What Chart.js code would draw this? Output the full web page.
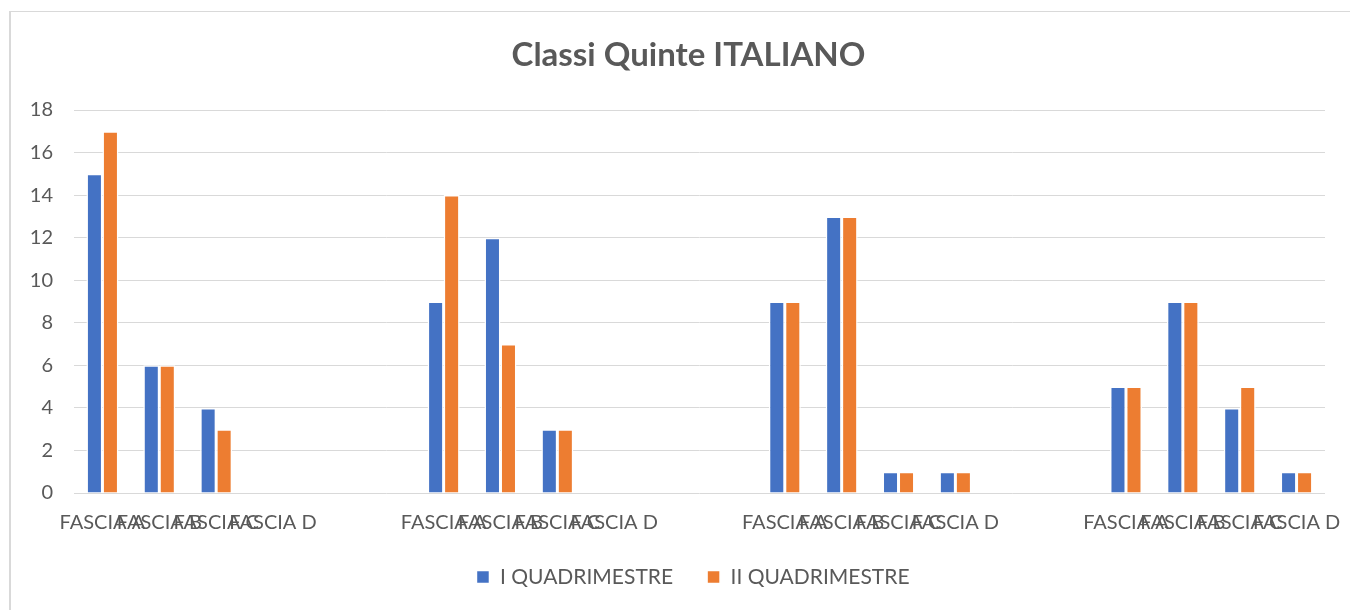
<!DOCTYPE html>
<html>
<head>
<meta charset="utf-8">
<script src="https://cdn.jsdelivr.net/npm/chart.js@4.4.1/dist/chart.umd.min.js"></script>
<style>
  html, body { margin: 0; padding: 0; background: #fff; }
  #box { position: relative; width: 1350px; height: 610px; overflow: hidden; }
  /* cornice del grafico, tagliata a destra e in basso come nello screenshot */
  #cornice { position: absolute; left: 9px; top: 11px; width: 1400px; height: 700px;
             border-left: 2px solid #d9d9d9; border-top: 1px solid #d9d9d9; }
  canvas { position: absolute; left: 0; top: 0; }
</style>
</head>
<body>
<div id="box">
  <div id="cornice"></div>
  <canvas id="grafico" width="1350" height="610"></canvas>
</div>
<script>
// * Dati: 4 blocchi di fasce, con due colonne vuote tra un blocco e l'altro
var etichette = [
    'FASCIA A', 'FASCIA B', 'FASCIA C', 'FASCIA D', '', '',
    'FASCIA A', 'FASCIA B', 'FASCIA C', 'FASCIA D', '', '',
    'FASCIA A', 'FASCIA B', 'FASCIA C', 'FASCIA D', '', '',
    'FASCIA A', 'FASCIA B', 'FASCIA C', 'FASCIA D'
];
var primoQuadrimestre = [
    15, 6, 4, 0, null, null,
    9, 12, 3, 0, null, null,
    9, 13, 1, 1, null, null,
    5, 9, 4, 1
];
var secondoQuadrimestre = [
    17, 6, 3, 0, null, null,
    14, 7, 3, 0, null, null,
    9, 13, 1, 1, null, null,
    5, 9, 5, 1
];
var nomiSerie = ['I QUADRIMESTRE', 'II QUADRIMESTRE'];
var tickY = [0, 2, 4, 6, 8, 10, 12, 14, 16, 18];

var coloreTesto = '#595959';
var font = 'Lato, "Open Sans", "Liberation Sans", sans-serif';

var data = {
    labels: etichette,
    datasets: [{
        label: nomiSerie[0],
        data: primoQuadrimestre,
        backgroundColor: '#4472C4',
        borderColor: '#ffffff',
        borderWidth: 1.5
    }, {
        label: nomiSerie[1],
        data: secondoQuadrimestre,
        backgroundColor: '#ED7D31',
        borderColor: '#ffffff',
        borderWidth: 1.5
    }]
};

// > Titolo e legenda in Excel sono centrati un po' più a destra: sposto i loro box dopo il layout
var spostaBox = {
    id: 'spostaBox',
    afterLayout: function (chart) {
        if (chart.titleBlock) {
            chart.titleBlock.left = 52;
            chart.titleBlock.right = 1325;
        }
        if (chart.legend) {
            chart.legend.left = 61;
            chart.legend.right = 1325;
        }
    }
};

var options = {
    responsive: false,
    animation: false,
    layout: { padding: { left: 12, right: 25, top: 0, bottom: 12.5 } },
    datasets: { bar: { categoryPercentage: 0.563, barPercentage: 1 } },
    plugins: {
        title: {
            display: true,
            text: 'Classi Quinte ITALIANO',
            color: coloreTesto,
            font: { family: font, size: 33, weight: 'bold' },
            padding: { top: 35.2, bottom: 35.2 }
        },
        legend: {
            position: 'bottom',
            labels: {
                color: coloreTesto,
                font: { family: font, size: 21 },
                boxWidth: 13,
                boxHeight: 13,
                padding: 34
            }
        },
        tooltip: { enabled: false }
    },
    scales: {
        x: {
            grid: { display: false, drawTicks: false },
            border: { display: false },
            ticks: {
                color: coloreTesto,
                font: { family: font, size: 20 },
                autoSkip: false,
                maxRotation: 0,
                minRotation: 0,
                padding: 18
            },
            afterFit: function (scala) {
                scala.height = 39.5;
                scala.paddingLeft = 0;
                scala.paddingRight = 0;
            }
        },
        y: {
            min: 0,
            max: 18,
            grid: { color: '#d9d9d9', lineWidth: 1, drawTicks: false },
            border: { display: false },
            afterBuildTicks: function (scala) {
                scala.ticks = tickY.map(function (v) { return { value: v }; });
            },
            ticks: {
                color: coloreTesto,
                font: { family: font, size: 20 },
                padding: 21
            },
            afterFit: function (scala) {
                scala.width = 62;
                scala.paddingTop = 0;
                scala.paddingBottom = 0;
            }
        }
    }
};

var ctx = document.getElementById('grafico').getContext('2d');
var grafico = new Chart(ctx, { type: 'bar', data: data, options: options, plugins: [spostaBox] });
</script>
</body>
</html>
